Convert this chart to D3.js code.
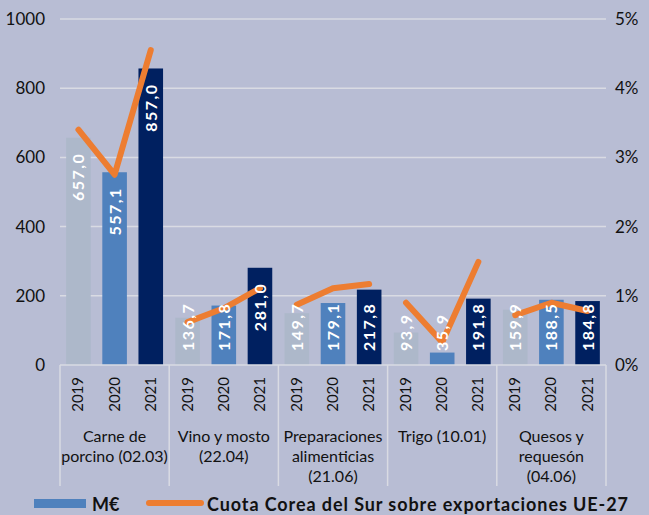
<!DOCTYPE html>
<html>
<head>
<meta charset="utf-8">
<script src="https://cdn.jsdelivr.net/npm/d3@7"></script>
<style>
  body { margin: 0; background: #b8bdd4; }
  svg { display: block; font-family: Lato, "Open Sans", sans-serif; }
</style>
</head>
<body>
<svg id="chart"></svg>
<script>
let width = 649,
  height = 515;

// Data
const categories = [
  ["Carne de", "porcino (02.03)"],
  ["Vino y mosto", "(22.04)"],
  ["Preparaciones", "alimenticias", "(21.06)"],
  ["Trigo (10.01)"],
  ["Quesos y", "requesón", "(04.06)"],
];
const years = ["2019", "2020", "2021"];
const valuesME = [
  [657.0, 557.1, 857.0],
  [136.7, 171.8, 281.0],
  [149.7, 179.1, 217.8],
  [93.9, 35.9, 191.8],
  [159.9, 188.5, 184.8],
];
const cuotaPct = [
  [3.4, 2.75, 4.55],
  [0.62, 0.82, 1.11],
  [0.87, 1.11, 1.17],
  [0.9, 0.33, 1.49],
  [0.72, 0.9, 0.78],
];
const leftTicks = [0, 200, 400, 600, 800, 1000];
const rightTicks = [0, 1, 2, 3, 4, 5];

const yearColors = ["#adb8ca", "#4f81bd", "#002060"];

let svg = d3.select("#chart").attr("width", width).attr("height", height);

let margin = { left: 60, right: 43, top: 19, bottom: 150 };
let x0 = margin.left,
  x1 = width - margin.right,
  yBase = height - margin.bottom;

// Scales
let xGroup = d3
  .scaleBand()
  .domain(d3.range(categories.length))
  .range([x0, x1]);
let xYear = d3
  .scaleBand()
  .domain(years)
  .range([0, xGroup.bandwidth()])
  .paddingInner(0.32)
  .paddingOuter(0.17);
let yLeft = d3.scaleLinear().domain([0, 1000]).range([yBase, margin.top]);
let yRight = d3.scaleLinear().domain([0, 5]).range([yBase, margin.top]);

// Gridlines
svg
  .append("g")
  .selectAll("line")
  .data(leftTicks.slice(1))
  .enter()
  .append("line")
  .attr("x1", x0)
  .attr("x2", x1)
  .attr("y1", (d) => yLeft(d))
  .attr("y2", (d) => yLeft(d))
  .attr("stroke", "#d9dbe3")
  .attr("stroke-width", 1.5);

// Left axis labels
svg
  .append("g")
  .selectAll("text")
  .data(leftTicks)
  .enter()
  .append("text")
  .attr("x", 45)
  .attr("y", (d) => yLeft(d) + 6)
  .attr("text-anchor", "end")
  .attr("font-size", 17)
  .attr("fill", "#111")
  .text((d) => d);

// Right axis labels
svg
  .append("g")
  .selectAll("text")
  .data(rightTicks)
  .enter()
  .append("text")
  .attr("x", 615)
  .attr("y", (d) => yRight(d) + 6)
  .attr("font-size", 17)
  .attr("fill", "#111")
  .text((d) => d + "%");

// Bars
let groups = svg
  .append("g")
  .selectAll("g")
  .data(valuesME)
  .enter()
  .append("g")
  .attr("transform", (d, i) => "translate(" + xGroup(i) + ",0)");

groups
  .selectAll("rect")
  .data((d) => d)
  .enter()
  .append("rect")
  .attr("x", (d, j) => xYear(years[j]))
  .attr("y", (d) => yLeft(d))
  .attr("width", xYear.bandwidth())
  .attr("height", (d) => yBase - yLeft(d))
  .attr("fill", (d, j) => yearColors[j]);

// Axis line and separators
svg
  .append("line")
  .attr("x1", x0)
  .attr("x2", x1)
  .attr("y1", yBase)
  .attr("y2", yBase)
  .attr("stroke", "#d9dbe3")
  .attr("stroke-width", 1.5);

svg
  .append("g")
  .selectAll("line")
  .data(d3.range(categories.length + 1))
  .enter()
  .append("line")
  .attr("x1", (i) => x0 + i * xGroup.bandwidth())
  .attr("x2", (i) => x0 + i * xGroup.bandwidth())
  .attr("y1", yBase)
  .attr("y2", 486)
  .attr("stroke", "#d9dbe3")
  .attr("stroke-width", 1.5);

// Year labels
groups
  .selectAll("text.yr")
  .data(years)
  .enter()
  .append("text")
  .attr("class", "yr")
  .attr("font-size", 15)
  .attr("fill", "#111")
  .attr("text-anchor", "end")
  .attr(
    "transform",
    (d) =>
      "translate(" +
      (xYear(d) + xYear.bandwidth() / 2 + 5) +
      "," +
      (yBase + 12) +
      ") rotate(-90)"
  )
  .text((d) => d);

// Category labels
groups
  .append("text")
  .attr("font-size", 16)
  .attr("fill", "#111")
  .attr("text-anchor", "middle")
  .each(function (d, i) {
    d3.select(this)
      .selectAll("tspan")
      .data(categories[i])
      .enter()
      .append("tspan")
      .attr("x", xGroup.bandwidth() / 2)
      .attr("y", (t, k) => 442 + k * 20)
      .text((t) => t);
  });

// Lines (one per category)
let line = d3
  .line()
  .x((d, j) => xYear(years[j]) + xYear.bandwidth() / 2)
  .y((d) => yRight(d));

groups
  .append("path")
  .datum((d, i) => cuotaPct[i])
  .attr("d", line)
  .attr("fill", "none")
  .attr("stroke", "#ed7d31")
  .attr("stroke-width", 6)
  .attr("stroke-linecap", "round")
  .attr("stroke-linejoin", "round");

// Value labels (drawn over the lines)
groups
  .selectAll("text.val")
  .data((d) => d)
  .enter()
  .append("text")
  .attr("class", "val")
  .attr("font-size", 16)
  .attr("font-weight", "bold")
  .attr("fill", "white")
  .attr("letter-spacing", 1.5)
  .text((d) => d.toFixed(1).replace(".", ","))
  .each(function (d, j) {
    let len = this.getComputedTextLength();
    let cx = xYear(years[j]) + xYear.bandwidth() / 2 + 6;
    let yStart = Math.min(yBase - 14, yLeft(d) + 15 + len);
    d3.select(this).attr(
      "transform",
      "translate(" + cx + "," + yStart + ") rotate(-90)"
    );
  });

// Legend
let legend = svg.append("g");
legend
  .append("rect")
  .attr("x", 34)
  .attr("y", 499)
  .attr("width", 52)
  .attr("height", 9)
  .attr("fill", "#4f81bd");
legend
  .append("text")
  .attr("x", 92)
  .attr("y", 511)
  .attr("font-size", 18)
  .attr("font-weight", "bold")
  .attr("fill", "#111")
  .text("M€");
legend
  .append("line")
  .attr("x1", 149)
  .attr("x2", 201)
  .attr("y1", 503)
  .attr("y2", 503)
  .attr("stroke", "#ed7d31")
  .attr("stroke-width", 6)
  .attr("stroke-linecap", "round");
legend
  .append("text")
  .attr("x", 207)
  .attr("y", 511)
  .attr("font-size", 18)
  .attr("font-weight", "bold")
  .attr("fill", "#111")
  .attr("textLength", 421)
  .attr("lengthAdjust", "spacing")
  .text("Cuota Corea del Sur sobre exportaciones UE-27");
</script>
</body>
</html>
